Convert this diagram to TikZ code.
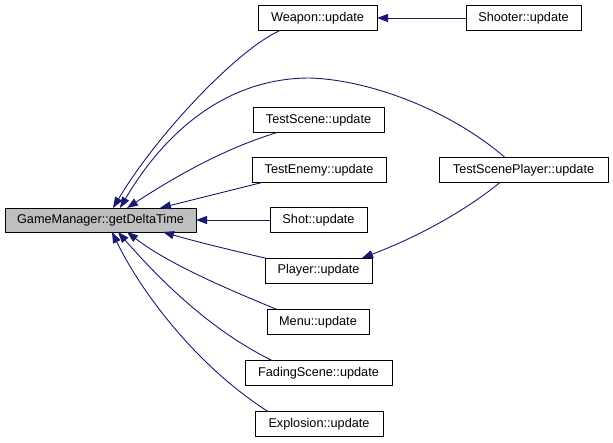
\documentclass[tikz,border=0pt]{standalone}
\usepackage{fontspec}
\setmainfont{Liberation Sans}
\usetikzlibrary{arrows.meta}
\definecolor{edgeblue}{HTML}{191970}
\definecolor{gmfill}{HTML}{BFBFBF}
\begin{document}
\begin{tikzpicture}[x=1pt,y=-1pt,
  fn/.style={draw=black,line width=0.9pt,fill=white,minimum height=25pt,inner sep=0pt,outer sep=0pt,
    font=\fontsize{12.7}{14}\selectfont},
  calls/.style={draw=edgeblue,line width=0.9pt,-{Triangle[length=11pt,width=8pt]}}]
\useasboundingbox (0,0) rectangle (613,443);
\node[fn,fill=gmfill,minimum width=191pt,minimum height=24pt] (gm) at (100.5,220) {GameManager::getDeltaTime};
\node[fn,minimum width=119pt] (weapon) at (317.5,18) {Weapon::update};
\node[fn,minimum width=115pt] (shooter) at (523.5,18) {Shooter::update};
\node[fn,minimum width=131pt] (testscene) at (318.5,120) {TestScene::update};
\node[fn,minimum width=134pt] (testenemy) at (319,170) {TestEnemy::update};
\node[fn,minimum width=169pt] (tsp) at (523.5,170) {TestScenePlayer::update};
\node[fn,minimum width=97pt] (shot) at (318.5,220) {Shot::update};
\node[fn,minimum width=107pt] (player) at (318.5,270.5) {Player::update};
\node[fn,minimum width=102pt] (menu) at (318,322) {Menu::update};
\node[fn,minimum width=147pt] (fading) at (318.5,373) {FadingScene::update};
\node[fn,minimum width=128pt] (explosion) at (319,424) {Explosion::update};
% edges
\draw[calls] (shooter.west) -- (weapon.east);
\draw[calls] ([xshift=22pt]weapon.south west) .. controls (240,48) and (160,130) .. ([xshift=108pt]gm.north west);
\draw[calls] ([xshift=66pt]tsp.north west) .. controls (450,110) and (370,80) .. (310,78) .. controls (220,78) and (160,140) .. ([xshift=115pt]gm.north west);
\draw[calls] ([xshift=24pt]testscene.south west) .. controls (220,150) and (170,180) .. ([xshift=122pt]gm.north west);
\draw[calls] ([xshift=10pt]testenemy.south west) -- ([xshift=155pt]gm.north west);
\draw[calls] (shot.west) -- (gm.east);
\draw[calls] (player.north west) .. controls (230,250) and (190,240) .. ([xshift=158pt]gm.south west);
\draw[calls] ([xshift=10pt]menu.north west) .. controls (230,290) and (170,265) .. ([xshift=122pt]gm.south west);
\draw[calls] ([xshift=27pt]fading.north west) .. controls (210,330) and (160,280) .. ([xshift=113pt]gm.south west);
\draw[calls] ([xshift=13pt]explosion.north west) .. controls (195,365) and (140,290) .. ([xshift=107pt]gm.south west);
\draw[calls] ([xshift=61pt]tsp.south west) .. controls (460,215) and (410,240) .. ([xshift=-10pt]player.north east);
\end{tikzpicture}
\end{document}
